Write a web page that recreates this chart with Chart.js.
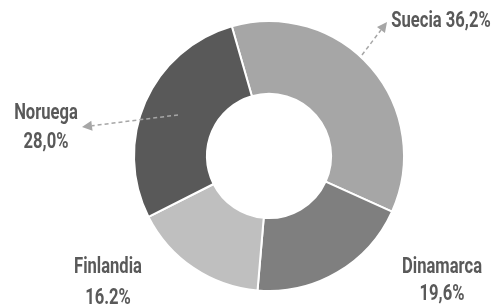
<!DOCTYPE html>
<html>
<head>
<meta charset="utf-8">
<script src="https://cdn.jsdelivr.net/npm/chart.js@4.4.0/dist/chart.umd.min.js"></script>
<style>
  html, body { margin: 0; padding: 0; background: #ffffff; }
  #wrap { width: 495px; height: 305px; position: relative; }
</style>
</head>
<body>
<div id="wrap"><canvas id="donut" width="495" height="305"></canvas></div>
<script>
// datos
var paises = ["Suecia", "Dinamarca", "Finlandia", "Noruega"];
var valores = [36.2, 19.6, 16.2, 28.0];
var etiquetas = ["36,2%", "19,6%", "16.2%", "28,0%"];
var colores = ["#a6a6a6", "#7f7f7f", "#bfbfbf", "#595959"];

// posiciones de las etiquetas (texto, no marcas)
var rotulos = [
    { lines: [paises[0] + " " + etiquetas[0]], x: 441, y: 21, gap: 0, arrow: [362, 55, 387, 22] },
    { lines: [paises[1], etiquetas[1]], x: 442, y: 267, gap: 27, arrow: null },
    { lines: [paises[2], etiquetas[2]], x: 108, y: 267, gap: 31, arrow: null },
    { lines: [paises[3], etiquetas[3]], x: 46, y: 113, gap: 29, arrow: [178, 115, 82, 127] }
];

var flecha = function(ctx, x1, y1, x2, y2) {
    var ang = Math.atan2(y2 - y1, x2 - x1);
    var len = 10;
    var bx = x2 - Math.cos(ang) * len;
    var by = y2 - Math.sin(ang) * len;
    ctx.save();
    ctx.strokeStyle = "#a6a6a6";
    ctx.fillStyle = "#a6a6a6";
    ctx.lineWidth = 1.5;
    ctx.setLineDash([4, 3]);
    ctx.beginPath();
    ctx.moveTo(x1, y1);
    ctx.lineTo(bx, by);
    ctx.stroke();
    ctx.setLineDash([]);
    ctx.beginPath();
    ctx.moveTo(x2, y2);
    ctx.lineTo(bx + Math.cos(ang + Math.PI / 2) * 5, by + Math.sin(ang + Math.PI / 2) * 5);
    ctx.lineTo(bx + Math.cos(ang - Math.PI / 2) * 5, by + Math.sin(ang - Math.PI / 2) * 5);
    ctx.closePath();
    ctx.fill();
    ctx.restore();
};

//rotulos y flechas
var rotulosPlugin = {
    id: "rotulos",
    afterDraw: function(chart) {
        var ctx = chart.ctx;
        ctx.save();
        ctx.font = "bold 22px Roboto, 'DejaVu Sans', sans-serif";
        ctx.fillStyle = "#595959";
        ctx.textAlign = "center";
        ctx.textBaseline = "middle";
        //letra estrecha: se comprime en horizontal
        var sx = 80 / ctx.measureText("Dinamarca").width;
        rotulos.forEach(function(r) {
            if (r.arrow) flecha(ctx, r.arrow[0], r.arrow[1], r.arrow[2], r.arrow[3]);
            r.lines.forEach(function(t, i) {
                ctx.save();
                ctx.translate(r.x, r.y + i * r.gap);
                ctx.scale(sx, 1);
                ctx.fillText(t, 0, 0);
                ctx.restore();
            });
        });
        ctx.restore();
    }
};

var ctx = document.getElementById("donut").getContext("2d");
var chart = new Chart(ctx, {
    type: "doughnut",
    data: {
        labels: paises,
        datasets: [{
            data: valores,
            backgroundColor: colores,
            borderColor: "#ffffff",
            borderWidth: 2
        }]
    },
    options: {
        responsive: false,
        animation: false,
        rotation: -16,
        cutout: "46%",
        layout: { padding: { left: 133, right: 90, top: 20, bottom: 13 } },
        plugins: {
            legend: { display: false },
            tooltip: { enabled: false }
        }
    },
    plugins: [rotulosPlugin]
});
</script>
</body>
</html>
